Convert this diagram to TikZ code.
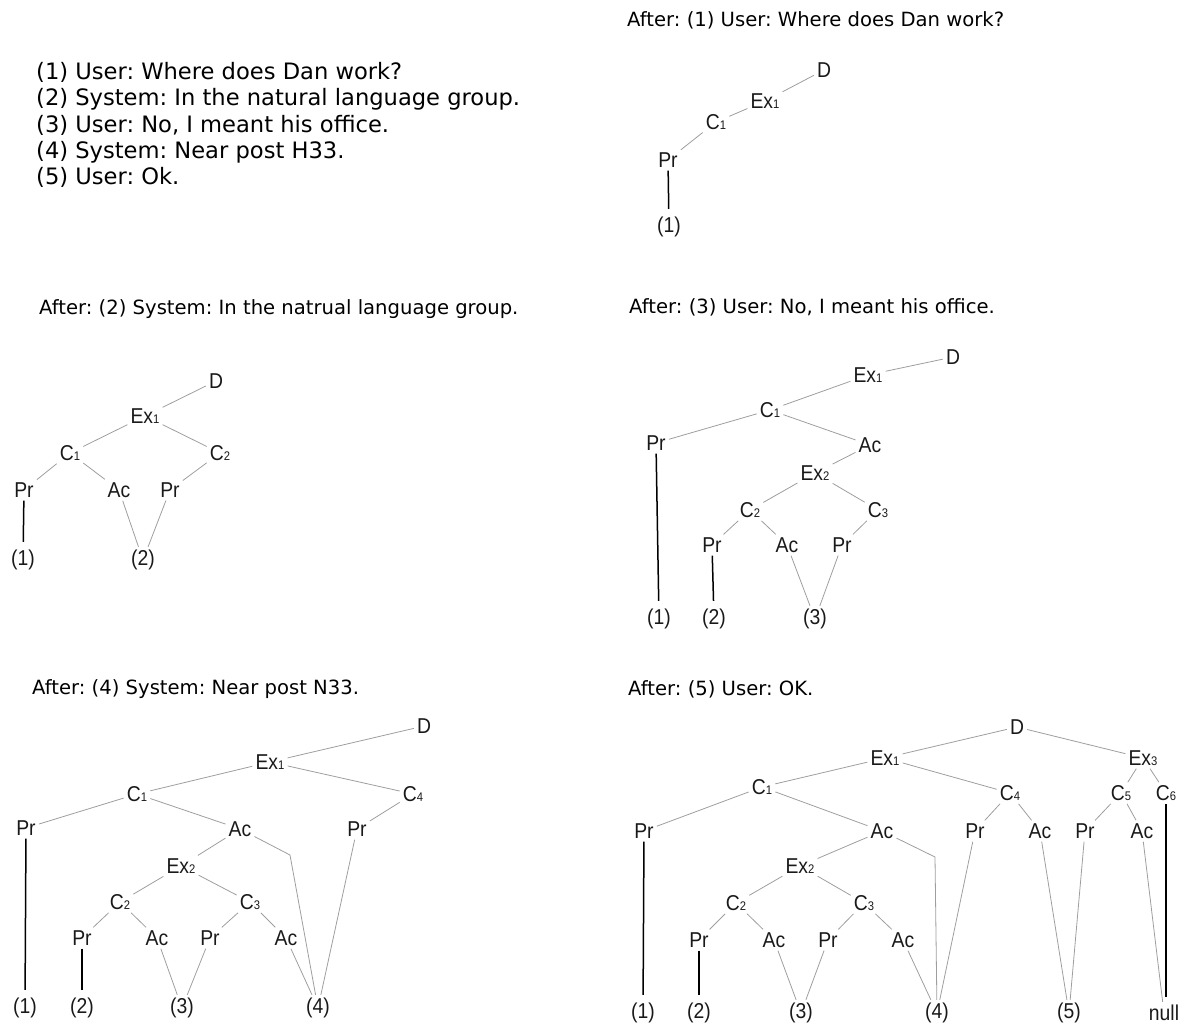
\documentclass[tikz,border=0pt]{standalone}
\usepackage{fontspec}
\setmainfont{DejaVu Sans}
\newfontfamily\arialf[FakeStretch=0.9]{Liberation Sans}
\newcommand{\subn}[1]{{\fontsize{12.5}{12.5}\selectfont #1}}
\frenchspacing
\begin{document}
\begin{tikzpicture}[x=1pt,y=-1pt,
  lbl/.style={font=\arialf\fontsize{21.5}{21.5}\selectfont, inner sep=3pt, text=black!90},
  hdr/.style={font=\fontsize{19.6}{22}\selectfont, anchor=base west, inner sep=0pt},
  lst/.style={font=\fontsize{22.6}{26}\selectfont, anchor=base west, inner sep=0pt},
  gl/.style={draw=black!38, line width=0.8pt},
  bl/.style={draw=black, line width=1.5pt, shorten >=5pt}]
\useasboundingbox (0,0) rectangle (1189,1025);

% ---- dialogue list
\node[lst] (l1) at (36,80) {(1) User: Where does Dan work?};
\node[lst] (l2) at (36,106) {(2) System: In the natural language group.};
\node[lst] (l3) at (36,132) {(3) User: No, I meant his office.};
\node[lst] (l4) at (36,158) {(4) System: Near post H33.};
\node[lst] (l5) at (36,184) {(5) User: Ok.};

% ---- panel 1
\node[hdr] (h1) at (627,27) {After: (1) User: Where does Dan work?};
\node[lbl] (p1D) at (824,70) {D};
\node[lbl] (p1E) at (765,101) {Ex\subn{1}};
\node[lbl] (p1C) at (716,122) {C\subn{1}};
\node[lbl] (p1P) at (668,160) {Pr};
\node[lbl] (p1n1) at (669,227) {(1)};
\draw[gl] (p1D) -- (p1E) -- (p1C) -- (p1P);
\draw[bl] (p1P) -- (p1n1);

% ---- panel 2
\node[hdr] (h2) at (39,314) {After: (2) System: In the natrual language group.};
\node[lbl] (p2D) at (216,381) {D};
\node[lbl] (p2E) at (145,416) {Ex\subn{1}};
\node[lbl] (p2C1) at (70,453) {C\subn{1}};
\node[lbl] (p2C2) at (220,453) {C\subn{2}};
\node[lbl] (p2P1) at (24,490) {Pr};
\node[lbl] (p2A1) at (119,490) {Ac};
\node[lbl] (p2P2) at (170,490) {Pr};
\node[lbl] (p2n1) at (23,560) {(1)};
\node[lbl] (p2n2) at (143,560) {(2)};
\draw[gl] (p2D) -- (p2E);
\draw[gl] (p2E) -- (p2C1);
\draw[gl] (p2E) -- (p2C2);
\draw[gl] (p2C1) -- (p2P1);
\draw[gl] (p2C1) -- (p2A1);
\draw[gl] (p2C2) -- (p2P2);
\draw[gl] (p2A1) -- (p2n2);
\draw[gl] (p2P2) -- (p2n2);
\draw[bl] (p2P1) -- (p2n1);

% ---- panel 3
\node[hdr] (h3) at (629,313) {After: (3) User: No, I meant his office.};
\node[lbl] (p3D) at (953,357) {D};
\node[lbl] (p3E1) at (868,375) {Ex\subn{1}};
\node[lbl] (p3C1) at (770,410) {C\subn{1}};
\node[lbl] (p3P1) at (656,443) {Pr};
\node[lbl] (p3A1) at (870,445) {Ac};
\node[lbl] (p3E2) at (815,473) {Ex\subn{2}};
\node[lbl] (p3C2) at (750,510) {C\subn{2}};
\node[lbl] (p3C3) at (878,510) {C\subn{3}};
\node[lbl] (p3P2) at (712,545) {Pr};
\node[lbl] (p3A2) at (787,545) {Ac};
\node[lbl] (p3P3) at (842,545) {Pr};
\node[lbl] (p3n1) at (659,619) {(1)};
\node[lbl] (p3n2) at (714,619) {(2)};
\node[lbl] (p3n3) at (815,619) {(3)};
\draw[gl] (p3D) -- (p3E1);
\draw[gl] (p3E1) -- (p3C1);
\draw[gl] (p3C1) -- (p3P1);
\draw[gl] (p3C1) -- (p3A1);
\draw[gl] (p3A1) -- (p3E2);
\draw[gl] (p3E2) -- (p3C2);
\draw[gl] (p3E2) -- (p3C3);
\draw[gl] (p3C2) -- (p3P2);
\draw[gl] (p3C2) -- (p3A2);
\draw[gl] (p3C3) -- (p3P3);
\draw[gl] (p3A2) -- (p3n3);
\draw[gl] (p3P3) -- (p3n3);
\draw[bl] (p3P1) -- (p3n1);
\draw[bl] (p3P2) -- (p3n2);

% ---- panel 4
\node[hdr] (h4) at (32,694) {After: (4) System: Near post N33.};
\node[lbl] (p4D) at (424,726) {D};
\node[lbl] (p4E1) at (270,762) {Ex\subn{1}};
\node[lbl] (p4C1) at (137,794) {C\subn{1}};
\node[lbl] (p4C4) at (413,794) {C\subn{4}};
\node[lbl] (p4P1) at (26,828) {Pr};
\node[lbl] (p4A1) at (240,829) {Ac};
\node[lbl] (p4P4) at (357,829) {Pr};
\node[lbl] (p4E2) at (181,866) {Ex\subn{2}};
\node[lbl] (p4C2) at (120,902) {C\subn{2}};
\node[lbl] (p4C3) at (250,902) {C\subn{3}};
\node[lbl] (p4P2) at (82,938) {Pr};
\node[lbl] (p4A2) at (157,938) {Ac};
\node[lbl] (p4P3) at (210,938) {Pr};
\node[lbl] (p4A3) at (286,938) {Ac};
\node[lbl] (p4n1) at (25,1008) {(1)};
\node[lbl] (p4n2) at (82,1008) {(2)};
\node[lbl] (p4n3) at (182,1008) {(3)};
\node[lbl] (p4n4) at (318,1008) {(4)};
\coordinate (p4bend) at (290,855);
\draw[gl] (p4D) -- (p4E1);
\draw[gl] (p4E1) -- (p4C1);
\draw[gl] (p4E1) -- (p4C4);
\draw[gl] (p4C1) -- (p4P1);
\draw[gl] (p4C1) -- (p4A1);
\draw[gl] (p4C4) -- (p4P4);
\draw[gl] (p4A1) -- (p4E2);
\draw[gl] (p4E2) -- (p4C2);
\draw[gl] (p4E2) -- (p4C3);
\draw[gl] (p4C2) -- (p4P2);
\draw[gl] (p4C2) -- (p4A2);
\draw[gl] (p4C3) -- (p4P3);
\draw[gl] (p4C3) -- (p4A3);
\draw[gl] (p4A2) -- (p4n3);
\draw[gl] (p4P3) -- (p4n3);
\draw[gl] (p4A3) -- (p4n4);
\draw[gl] (p4A1) -- (p4bend) -- (p4n4);
\draw[gl] (p4P4) -- (p4n4);
\draw[bl] (p4P1) -- (p4n1);
\draw[bl] (p4P2) -- (p4n2);

% ---- panel 5
\node[hdr] (h5) at (628,695) {After: (5) User: OK.};
\node[lbl] (p5D) at (1017,727) {D};
\node[lbl] (p5E1) at (885,758) {Ex\subn{1}};
\node[lbl] (p5E3) at (1143,758) {Ex\subn{3}};
\node[lbl] (p5C1) at (762,787) {C\subn{1}};
\node[lbl] (p5C4) at (1010,793) {C\subn{4}};
\node[lbl] (p5C5) at (1121,793) {C\subn{5}};
\node[lbl] (p5C6) at (1166,793) {C\subn{6}};
\node[lbl] (p5P1) at (644,831) {Pr};
\node[lbl] (p5A1) at (882,831) {Ac};
\node[lbl] (p5P4) at (975,831) {Pr};
\node[lbl] (p5A4) at (1040,831) {Ac};
\node[lbl] (p5P5) at (1085,831) {Pr};
\node[lbl] (p5A5) at (1142,831) {Ac};
\node[lbl] (p5E2) at (800,866) {Ex\subn{2}};
\node[lbl] (p5C2) at (736,903) {C\subn{2}};
\node[lbl] (p5C3) at (864,903) {C\subn{3}};
\node[lbl] (p5P2) at (699,940) {Pr};
\node[lbl] (p5A2) at (774,940) {Ac};
\node[lbl] (p5P3) at (828,940) {Pr};
\node[lbl] (p5A3) at (903,940) {Ac};
\node[lbl] (p5n1) at (643,1013) {(1)};
\node[lbl] (p5n2) at (699,1013) {(2)};
\node[lbl] (p5n3) at (801,1013) {(3)};
\node[lbl] (p5n4) at (937,1013) {(4)};
\node[lbl] (p5n5) at (1069,1013) {(5)};
\node[lbl] (p5null) at (1164,1013) {null};
\coordinate (p5bend) at (935,857);
\draw[gl] (p5D) -- (p5E1);
\draw[gl] (p5D) -- (p5E3);
\draw[gl] (p5E1) -- (p5C1);
\draw[gl] (p5E1) -- (p5C4);
\draw[gl] (p5E3) -- (p5C5);
\draw[gl] (p5E3) -- (p5C6);
\draw[gl] (p5C1) -- (p5P1);
\draw[gl] (p5C1) -- (p5A1);
\draw[gl] (p5C4) -- (p5P4);
\draw[gl] (p5C4) -- (p5A4);
\draw[gl] (p5C5) -- (p5P5);
\draw[gl] (p5C5) -- (p5A5);
\draw[gl] (p5A1) -- (p5E2);
\draw[gl] (p5E2) -- (p5C2);
\draw[gl] (p5E2) -- (p5C3);
\draw[gl] (p5C2) -- (p5P2);
\draw[gl] (p5C2) -- (p5A2);
\draw[gl] (p5C3) -- (p5P3);
\draw[gl] (p5C3) -- (p5A3);
\draw[gl] (p5A2) -- (p5n3);
\draw[gl] (p5P3) -- (p5n3);
\draw[gl] (p5A3) -- (p5n4);
\draw[gl] (p5A1) -- (p5bend) -- (p5n4);
\draw[gl] (p5P4) -- (p5n4);
\draw[gl] (p5A4) -- (p5n5);
\draw[gl] (p5P5) -- (p5n5);
\draw[gl] (p5A5) -- (p5null);
\draw[bl] (p5P1) -- (p5n1);
\draw[bl] (p5P2) -- (p5n2);
\draw[bl] (p5C6) -- (p5C6 |- p5null.north);
\end{tikzpicture}
\end{document}
